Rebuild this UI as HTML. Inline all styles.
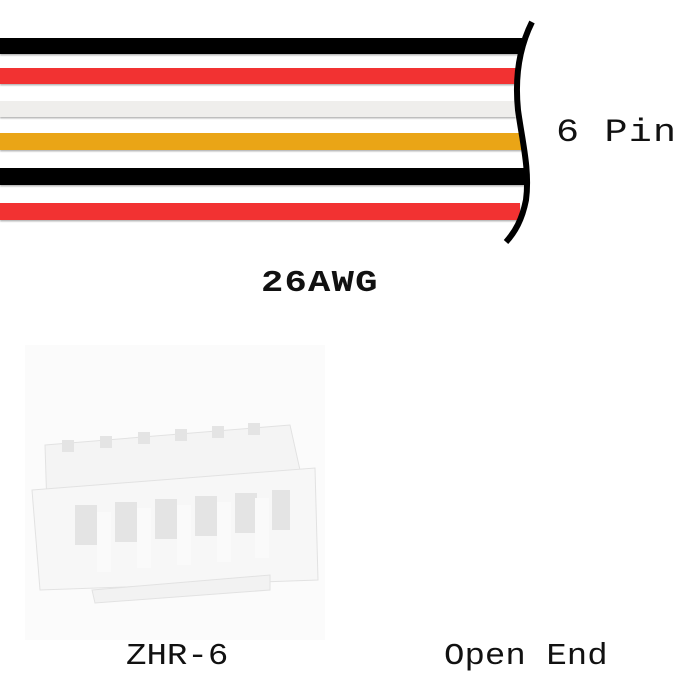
<!DOCTYPE html>
<html><head><style>
body{margin:0;width:700px;height:700px;background:#fff;position:relative;overflow:hidden;font-family:"Liberation Mono",monospace;}
.t{position:absolute;font-size:31px;color:#111;white-space:nowrap;transform-origin:0 0;}
</style></head><body>
<svg width="700" height="700" style="position:absolute;left:0;top:0">
<defs><filter id="s"><feDropShadow dx="0" dy="1.5" stdDeviation="0.8" flood-color="#999" flood-opacity="0.7"/></filter></defs>
<g filter="url(#s)">
<rect x="0" y="38" width="522" height="16" fill="#000"/>
<rect x="0" y="68" width="516" height="16" fill="#f23030"/>
<rect x="0" y="101" width="516" height="16" fill="#efeeec"/>
<rect x="0" y="133" width="522" height="17" fill="#eaa517"/>
<rect x="0" y="168" width="526" height="17" fill="#000"/>
<rect x="0" y="203" width="520" height="17" fill="#f23030"/>
</g>
<path d="M532,22 C518,50 515,80 518,110 C522,140 530,170 526,200 C522,220 515,232 506,242" fill="none" stroke="#000" stroke-width="6"/>
<rect x="25" y="345" width="300" height="295" fill="#fbfbfb"/>
<g stroke="#e2e2e2" stroke-width="1">
<path d="M45,445 L290,425 L300,470 L300,520 L48,540 Z" fill="#f4f4f4"/>
<path d="M32,490 L315,468 L318,580 L40,590 Z" fill="#f7f7f7"/>
<path d="M92,590 L270,575 L270,590 L95,603 Z" fill="#f2f2f2"/>
</g>
<g fill="#e4e4e4">
<rect x="62" y="440" width="12" height="12"/><rect x="100" y="436" width="12" height="12"/><rect x="138" y="432" width="12" height="12"/><rect x="175" y="429" width="12" height="12"/><rect x="212" y="426" width="12" height="12"/><rect x="248" y="423" width="12" height="12"/>
<rect x="75" y="505" width="22" height="40"/><rect x="115" y="502" width="22" height="40"/><rect x="155" y="499" width="22" height="40"/><rect x="195" y="496" width="22" height="40"/><rect x="235" y="493" width="22" height="40"/><rect x="272" y="490" width="18" height="40"/>
</g>
<g fill="#fafafa">
<rect x="97" y="512" width="14" height="60"/><rect x="137" y="508" width="14" height="60"/><rect x="177" y="505" width="14" height="60"/><rect x="217" y="502" width="14" height="60"/><rect x="255" y="498" width="14" height="60"/>
</g>
</svg>
<div class="t" style="left:556px;top:114px;font-size:32px;letter-spacing:1px;transform:scaleX(1.2)">6 Pin</div>
<div class="t" style="left:261px;top:266px;letter-spacing:1px;font-weight:bold;transform:scaleX(1.2)">26AWG</div>
<div class="t" style="left:126px;top:639px;letter-spacing:0px;transform:scaleX(1.1)">ZHR-6</div>
<div class="t" style="left:444px;top:639px;letter-spacing:0px;transform:scaleX(1.1)">Open End</div>
</body></html>
